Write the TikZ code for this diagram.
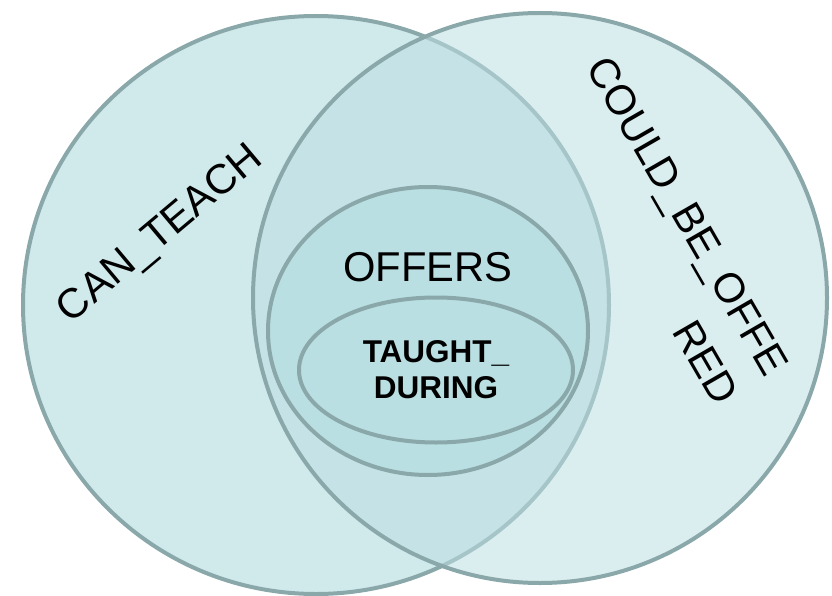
\documentclass[tikz,border=0pt]{standalone}
\usepackage{fontspec}
\setmainfont{Liberation Sans}
\usetikzlibrary{shapes.geometric}

\definecolor{setline}{RGB}{138,168,170}
\definecolor{leftfill}{RGB}{208,233,235}
\definecolor{rightfill}{RGB}{188,222,226}
\definecolor{innerfill}{RGB}{185,223,226}

\begin{document}
\begin{tikzpicture}[
    x=1pt,y=-1pt,
    setshape/.style={draw=setline,line width=4pt,inner sep=0pt},
    biglabel/.style={font=\fontsize{41.7}{58}\selectfont,inner sep=0pt},
    smalllabel/.style={font=\bfseries\fontsize{31.5}{36}\selectfont,align=center,inner sep=0pt}
]
\useasboundingbox (0,0) rectangle (832,596);

% the two big sets
\node[setshape,ellipse,fill=leftfill,minimum width=586pt,minimum height=578pt] (canteach) at (316,305) {};
\node[setshape,ellipse,fill=rightfill,fill opacity=0.55,minimum width=574pt,minimum height=570pt] (couldbe) at (540,298) {};

% nested sets in the overlap
\node[setshape,ellipse,fill=innerfill,minimum width=320pt,minimum height=288pt] (offers) at (428,331) {};
\node[setshape,ellipse,fill=innerfill,minimum width=274pt,minimum height=145pt] (taught) at (436,370) {};

% labels
\node[biglabel,rotate=40] (canteachlabel) at (161,235) {CAN\_TEACH};
\node[biglabel,rotate=-60,align=right] (couldbelabel) at (663,230) {COULD\_BE\_OFFE\\RED};
\node[biglabel] (offerslabel) at (428,267) {OFFERS};
\node[smalllabel] (taughtlabel) at (taught) {TAUGHT\_\\DURING};
\end{tikzpicture}
\end{document}
